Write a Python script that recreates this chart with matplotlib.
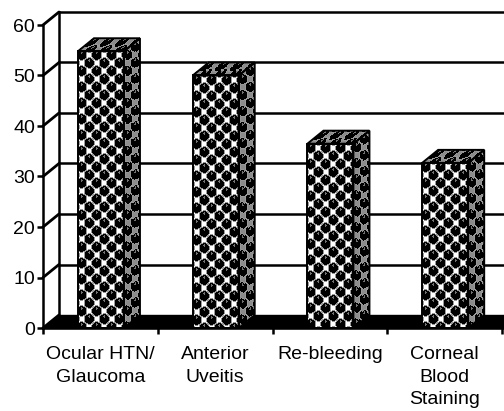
# 3D-look bar chart with a patterned fill
import numpy as np
import matplotlib
matplotlib.use("Agg")
import matplotlib.pyplot as plt

categories = ["Ocular HTN/\nGlaucoma", "Anterior\nUveitis", "Re-bleeding", "Corneal\nBlood\nStaining"]
values = [54.8, 50, 36.5, 32.7]
y_ticks = [0, 10, 20, 30, 40, 50, 60]

plt.rcParams['font.family'] = ['Liberation Sans', 'DejaVu Sans']

W, H = 504, 411
fig = plt.figure(figsize=(W / 100, H / 100), dpi=100)

# front plane of the chart, pixel box from the reference
left, right, bottom, top = 43, 504, 328, 25
ax = fig.add_axes([left / W, 1 - bottom / H, (right - left) / W, (bottom - top) / H])
ax.set_xlim(0, (right - left) / 114.75)
ax.set_ylim(0, 60)

px_x = 1 / 114.75   # one pixel in x units
px_y = 60 / (bottom - top)   # one pixel in y units
depth_x = 16 * px_x
depth_y = 13 * px_y
bar_w = 46 * px_x
xmax = ax.get_xlim()[1]


def make_tile():
    # one repeat of the ball pattern, 15 wide and 16 high
    tile = np.ones((16, 15))
    yy, xx = np.mgrid[0:16, 0:15]
    centres = [(3.75 + ox, 4 + oy) for ox in (-15, 0, 15) for oy in (-16, 0, 16)]
    centres += [(11.25 + ox, 12 + oy) for ox in (-15, 0, 15) for oy in (-16, 0, 16)]
    for cx, cy in centres:
        d = np.hypot(xx + 0.5 - cx, yy + 0.5 - cy)
        tile[d < 5.7] = np.minimum(tile[d < 5.7], 0.6)
    for cx, cy in centres:
        d = np.hypot(xx + 0.5 - cx, yy + 0.5 - cy)
        tile[d < 4.7] = 0
    for cx, cy in centres:
        hl = np.hypot(xx + 0.5 - cx, yy + 0.5 - cy + 2.5) < 1.1
        tile[hl] = 0.45
    return tile


tile = make_tile()


def face(x0, y0, ux, uy, vx, vy, nu, nv, shade, shear, z):
    # fill a parallelogram with the tile, one cell per pixel, pattern kept upright
    u = np.arange(nu + 1) / nu
    v = np.arange(nv + 1) / nv
    uu, vv = np.meshgrid(u, v)
    X = x0 + ux * uu + vx * vv
    Y = y0 + uy * uu + vy * vv
    iy, ix = np.mgrid[0:nv, 0:nu]
    C = tile[(nv - 1 - iy - (ix * shear).astype(int)) % 16, ix % 15]
    C = np.where(C > 0.8, shade, C)
    ax.pcolormesh(X, Y, C, cmap="gray", vmin=0, vmax=1, shading="flat",
                  antialiased=False, linewidth=0, zorder=z, clip_on=False)
    ax.fill([x0, x0 + ux, x0 + ux + vx, x0 + vx], [y0, y0 + uy, y0 + uy + vy, y0 + vy],
            facecolor="none", edgecolor="black", linewidth=1.4, zorder=z + 0.1, clip_on=False)


# back wall gridlines
for t in y_ticks:
    ax.plot([0, depth_x], [t, t + depth_y], color="black", lw=2, zorder=2, clip_on=False,
            solid_capstyle="round")
    if t > 0:
        ax.plot([depth_x, xmax], [t + depth_y, t + depth_y], color="black", lw=1.8, zorder=2, clip_on=False)
ax.plot([depth_x, depth_x], [depth_y, 60 + depth_y], color="black", lw=1.8, zorder=2, clip_on=False)

# floor
ax.fill([0, xmax, xmax, depth_x], [0, 0, depth_y, depth_y], color="black", zorder=3, clip_on=False)

# bars
for i, val in enumerate(values):
    x0 = i + 0.505 - bar_w / 2
    h_px = int(round(val / px_y))
    face(x0, 0, bar_w, 0, 0, val, 46, h_px, 1.0, 0, 4)
    face(x0 + bar_w, 0, depth_x, depth_y, 0, val, 16, h_px, 0.55, 13 / 16, 4)
    face(x0, val, bar_w, 0, depth_x, depth_y, 46, 13, 0.55, 0, 4)

# axes lines and ticks
for s in ["top", "right"]:
    ax.spines[s].set_visible(False)
for s in ["left", "bottom"]:
    ax.spines[s].set_linewidth(1.8)
    ax.spines[s].set_zorder(6)
ax.patch.set_visible(False)
ax.set_yticks(y_ticks)
ax.set_xticks(np.arange(0, 5))
ax.set_xticklabels([])
ax.tick_params(axis="y", length=4.3, width=1.8, labelsize=14, pad=1.5, colors="black")
ax.tick_params(axis="x", length=4.3, width=1.8)

# category labels under the axis
for i, lab in enumerate(categories):
    ax.text(i + 0.5, -3.55, lab, ha="center", va="top", fontsize=14, linespacing=1.44,
            color="black", clip_on=False)

fig.savefig("out.png", dpi=100)
